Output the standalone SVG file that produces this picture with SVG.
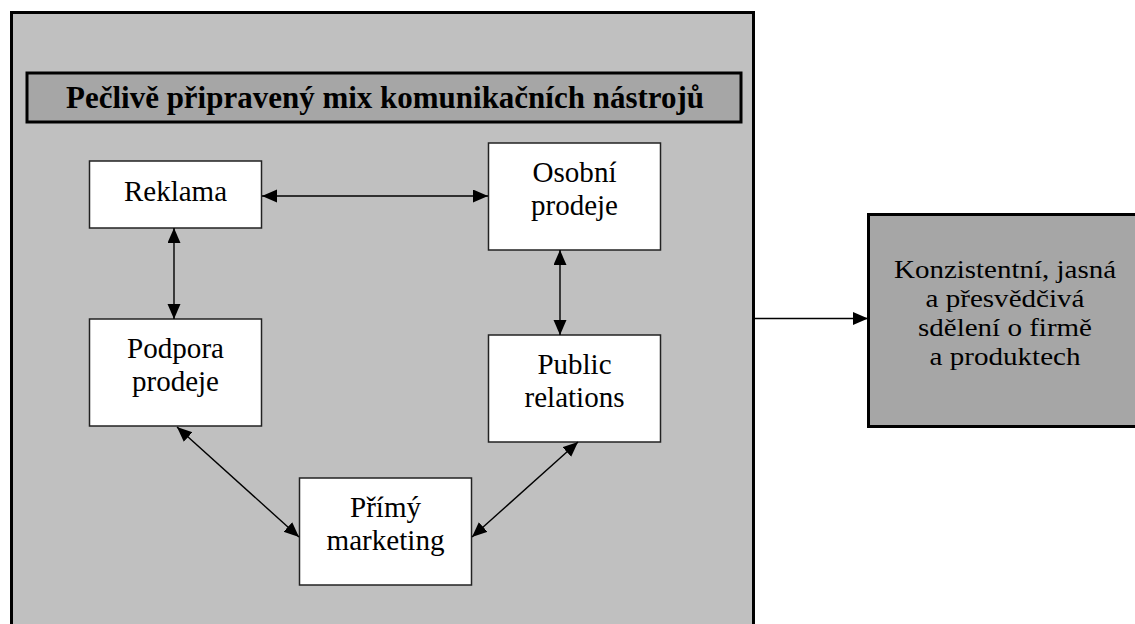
<svg xmlns="http://www.w3.org/2000/svg" width="1135" height="624" viewBox="0 0 1135 624">
<style>
  .frame { fill: #c0c0c0; stroke: #000; stroke-width: 3; }
  .dark { fill: #a6a6a6; stroke: #000; stroke-width: 3; }
  .node { fill: #fff; stroke: #222; stroke-width: 1.5; }
  .t { font-family: 'Liberation Serif', 'Times New Roman', Times, serif; font-size: 29px; fill: #000; text-anchor: middle; }
  .t2 { font-family: 'Liberation Serif', 'Times New Roman', Times, serif; font-size: 26px; fill: #000; text-anchor: middle; }
  .title { font-family: 'Liberation Serif', 'Times New Roman', Times, serif; font-size: 32px; font-weight: bold; fill: #000; text-anchor: middle; }
  .conn line { stroke: #000; stroke-width: 1.4; fill: none; }
</style>
<defs>
  <marker id="ah" markerUnits="userSpaceOnUse" markerWidth="16" markerHeight="14" refX="15" refY="6.5" orient="auto-start-reverse">
    <path d="M0,0 L15,6.5 L0,13 z" fill="#000"/>
  </marker>
</defs>
<rect width="1135" height="624" fill="#fff"/>
<g id="frame">
  <rect class="frame" x="11.5" y="12.5" width="742" height="640"/>
</g>
<g id="title">
  <rect class="dark" x="27" y="73" width="714" height="49"/>
  <text class="title" x="385" y="108" textLength="638" lengthAdjust="spacingAndGlyphs">Pečlivě připravený mix komunikačních nástrojů</text>
</g>
<g id="reklama">
  <rect class="node" x="89.5" y="161" width="172" height="67"/>
  <text class="t" x="175.5" y="201" textLength="103" lengthAdjust="spacingAndGlyphs">Reklama</text>
</g>
<g id="osobni">
  <rect class="node" x="488.5" y="143" width="172" height="107"/>
  <text class="t" x="574.5" y="182" textLength="84" lengthAdjust="spacingAndGlyphs">Osobní</text>
  <text class="t" x="574.5" y="215" textLength="87" lengthAdjust="spacingAndGlyphs">prodeje</text>
</g>
<g id="podpora">
  <rect class="node" x="89.5" y="319" width="172" height="107"/>
  <text class="t" x="175.5" y="358" textLength="97" lengthAdjust="spacingAndGlyphs">Podpora</text>
  <text class="t" x="175.5" y="391" textLength="87" lengthAdjust="spacingAndGlyphs">prodeje</text>
</g>
<g id="public">
  <rect class="node" x="488.5" y="335" width="172" height="107"/>
  <text class="t" x="574.5" y="374" textLength="74" lengthAdjust="spacingAndGlyphs">Public</text>
  <text class="t" x="574.5" y="407" textLength="100" lengthAdjust="spacingAndGlyphs">relations</text>
</g>
<g id="primy">
  <rect class="node" x="299.5" y="478" width="172" height="107"/>
  <text class="t" x="385.5" y="517" textLength="71" lengthAdjust="spacingAndGlyphs">Přímý</text>
  <text class="t" x="385.5" y="550" textLength="118" lengthAdjust="spacingAndGlyphs">marketing</text>
</g>
<g id="vysledek">
  <rect class="dark" x="868.5" y="214.5" width="270" height="212"/>
  <text class="t2" x="1005" y="278" textLength="222" lengthAdjust="spacingAndGlyphs">Konzistentní, jasná</text>
  <text class="t2" x="1005" y="307" textLength="159" lengthAdjust="spacingAndGlyphs">a přesvědčivá</text>
  <text class="t2" x="1005" y="336" textLength="174" lengthAdjust="spacingAndGlyphs">sdělení o firmě</text>
  <text class="t2" x="1005" y="365" textLength="151" lengthAdjust="spacingAndGlyphs">a produktech</text>
</g>
<g id="connectors" class="conn">
  <line x1="262" y1="196" x2="488" y2="196" marker-start="url(#ah)" marker-end="url(#ah)"/>
  <line x1="174" y1="228" x2="174" y2="319" marker-start="url(#ah)" marker-end="url(#ah)"/>
  <line x1="560" y1="250" x2="560" y2="335" marker-start="url(#ah)" marker-end="url(#ah)"/>
  <line x1="177" y1="427" x2="299" y2="537" marker-start="url(#ah)" marker-end="url(#ah)"/>
  <line x1="578" y1="442" x2="472" y2="537" marker-start="url(#ah)" marker-end="url(#ah)"/>
  <line x1="755" y1="318.5" x2="868" y2="318.5" marker-end="url(#ah)"/>
</g>
</svg>
